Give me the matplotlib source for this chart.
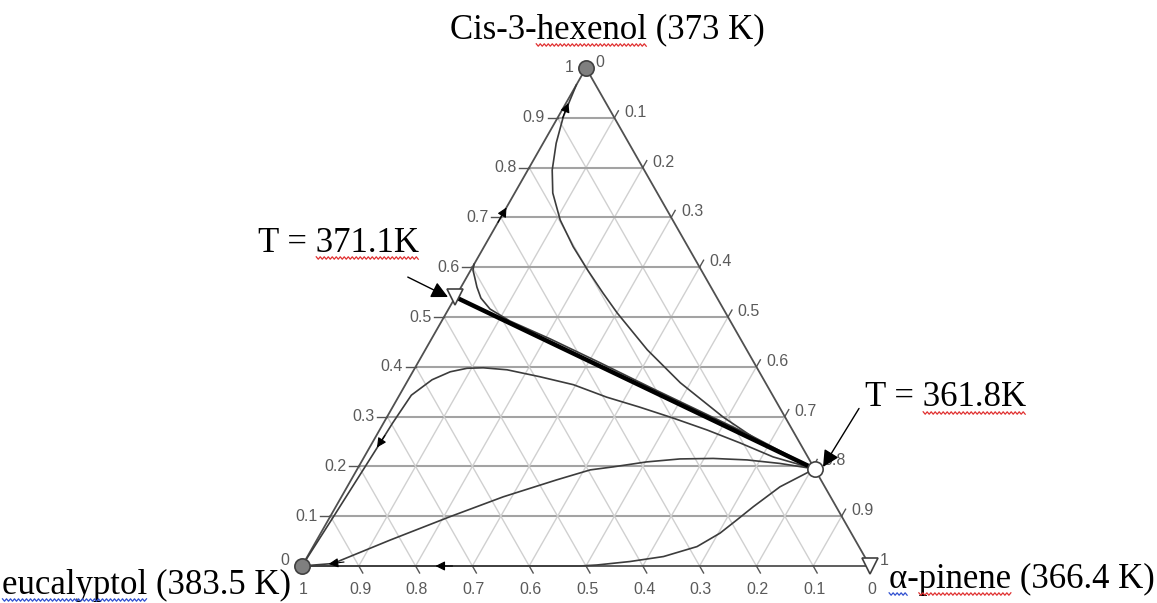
import numpy as np
import matplotlib.pyplot as plt
from matplotlib.text import Text

# compositions as (cis-3-hexenol fraction, alpha-pinene fraction)
boundary_hex = [0.54, 0.195]
boundary_pin = [0.0, 0.805]

curve_a_hex = [0.606, 0.594, 0.580, 0.560, 0.538, 0.516, 0.492, 0.456, 0.408, 0.359, 0.311, 0.263, 0.195]
curve_a_pin = [0.000, 0.004, 0.014, 0.028, 0.046, 0.073, 0.120, 0.209, 0.321, 0.433, 0.545, 0.657, 0.805]

curve_b_hex = [0.966, 0.936, 0.902, 0.849, 0.795, 0.749, 0.695, 0.641, 0.594, 0.548, 0.508, 0.434, 0.368, 0.299, 0.253, 0.217, 0.195]
curve_b_pin = [0.000, 0.004, 0.009, 0.023, 0.043, 0.067, 0.107, 0.157, 0.206, 0.256, 0.301, 0.391, 0.482, 0.592, 0.675, 0.751, 0.805]

curve_c_hex = [0.0, 0.10, 0.173, 0.246, 0.287, 0.310, 0.343, 0.374, 0.390, 0.397, 0.398, 0.394, 0.380, 0.364, 0.339, 0.319, 0.297, 0.273, 0.247, 0.219, 0.195]
curve_c_pin = [0.0, 0.006, 0.010, 0.014, 0.016, 0.018, 0.021, 0.042, 0.066, 0.092, 0.120, 0.164, 0.229, 0.296, 0.367, 0.435, 0.505, 0.577, 0.648, 0.720, 0.805]

curve_d_hex = [0.0, 0.005, 0.052, 0.099, 0.139, 0.173, 0.193, 0.199, 0.209, 0.215, 0.216, 0.213, 0.206, 0.195]
curve_d_pin = [0.0, 0.052, 0.129, 0.211, 0.285, 0.362, 0.411, 0.448, 0.502, 0.558, 0.616, 0.677, 0.738, 0.805]

curve_e_hex = [0.195, 0.159, 0.119, 0.092, 0.066, 0.039, 0.019, 0.009, 0.002, 0.0, 0.0]
curve_e_pin = [0.805, 0.762, 0.735, 0.719, 0.703, 0.676, 0.627, 0.573, 0.518, 0.489, 0.0]

# direction arrows on curves: (hex, pin) tail -> tip
arrow_tail = [(0.69, 0.0), (0.90, 0.009), (0.262, 0.015), (0.008, 0.07), (0.0, 0.265)]
arrow_tip = [(0.72, 0.0), (0.93, 0.004), (0.238, 0.013), (0.004, 0.045), (0.0, 0.235)]

ticks = np.round(np.arange(0, 1.01, 0.1), 1)


def tern(h, p):
    h = np.asarray(h, dtype=float)
    p = np.asarray(p, dtype=float)
    return p + h / 2, h


def px(x, y):
    # picture pixel -> data coords
    return (x - 302) / 568, (566 - y) / 498


fig = plt.figure(figsize=(11.57, 6.03), dpi=100)
ax = fig.add_axes([0, 0, 1, 1])
ax.set_xlim(-302 / 568, 855 / 568)
ax.set_ylim(-37 / 498, 566 / 498)
ax.axis('off')

# grid
for t in ticks[1:-1]:
    x0, y0 = tern(t, 0)
    x1, y1 = tern(t, 1 - t)
    ax.plot([x0, x1], [y0, y1], color='#a3a3a3', lw=1.5, zorder=1)
    xa, ya = tern(0, t)
    xb, yb = tern(1 - t, t)
    ax.plot([xa, xb], [ya, yb], color='#d0d0d0', lw=1.0, zorder=1)
    xa, ya = tern(1 - t, 0)
    xb, yb = tern(0, 1 - t)
    ax.plot([xa, xb], [ya, yb], color='#d0d0d0', lw=1.0, zorder=1)

# axis ticks, outside the frame
for t in ticks[1:-1]:
    xa, ya = tern(1 - t, t)
    xb, yb = tern(1 - t + 0.014, t)
    ax.plot([xa, xb], [ya, yb], color='#555555', lw=1.0, zorder=2)
    xa, ya = tern(0, 1 - t)
    xb, yb = tern(-0.014, 1 - t + 0.014)
    ax.plot([xa, xb], [ya, yb], color='#555555', lw=1.0, zorder=2)
    xa, ya = tern(t, 0)
    ax.plot([xa - 10 / 568, xa], [ya, ya], color='#555555', lw=1.0, zorder=2)

# triangle frame
fx, fy = tern([0, 1, 0, 0], [0, 0, 1, 0])
ax.plot(fx, fy, color='#505050', lw=1.3, zorder=3)

# tick labels
lab_kw = dict(fontsize=11.5, color='#5a5a5a', family='Liberation Sans',
              textcoords='offset points')
for t in ticks:
    s = '%g' % t
    ax.annotate(s, tern(t, 0), xytext=(-9, 4 if t == 0 else 0), ha='right', va='center', **lab_kw)
    ax.annotate(s, tern(1 - t, t), xytext=(7, 4), ha='left', va='center', **lab_kw)
    ax.annotate('%g' % (1 - t), tern(0, t), xytext=(1, -17), ha='center', va='center', **lab_kw)

# residue curves
curve_kw = dict(color='#3c3c3c', lw=1.2, zorder=4)
for hh, pp in [(curve_a_hex, curve_a_pin), (curve_b_hex, curve_b_pin),
               (curve_c_hex, curve_c_pin), (curve_d_hex, curve_d_pin),
               (curve_e_hex, curve_e_pin)]:
    cx, cy = tern(hh, pp)
    ax.plot(cx, cy, **curve_kw)

bx, by = tern(boundary_hex, boundary_pin)
ax.plot(bx, by, color='black', lw=3.2, zorder=5, solid_capstyle='butt')

for tail, tip in zip(arrow_tail, arrow_tip):
    ax.annotate('', xy=tern(*tip), xytext=tern(*tail),
                arrowprops=dict(arrowstyle='-|>', color='black', lw=0.8,
                                mutation_scale=14, shrinkA=0, shrinkB=0),
                zorder=6)

# singular points
ax.plot(*tern(1, 0), 'o', ms=11, mfc='#7f7f7f', mec='#404040', mew=1.2, zorder=7, clip_on=False)
ax.plot(*tern(0, 0), 'o', ms=11, mfc='#7f7f7f', mec='#404040', mew=1.2, zorder=7, clip_on=False)
ax.plot(*tern(0, 1), 'v', ms=12, mfc='white', mec='#404040', mew=1.2, zorder=7, clip_on=False)
ax.plot(*tern(boundary_hex[0], boundary_pin[0]), 'v', ms=12, mfc='white', mec='#404040', mew=1.2, zorder=7)
ax.plot(*tern(boundary_hex[1], boundary_pin[1]), 'o', ms=11, mfc='white', mec='#404040', mew=1.2, zorder=7)

# component labels and azeotrope temperatures
serif = dict(family='Liberation Serif', color='black', fontsize=25)
t_hex = ax.text(*px(607, 30), 'Cis-3-hexenol (373 K)', ha='center', va='center', **serif)
t_euc = ax.text(*px(147, 585), 'eucalyptol (383.5 K)', ha='center', va='center', **serif)
t_pin = ax.text(*px(1022, 579), 'α-pinene (366.4 K)', ha='center', va='center', **serif)

t_az1 = ax.annotate('T = 371.1K', xy=px(448, 297), xytext=px(339, 243),
                    ha='center', va='center', **serif,
                    arrowprops=dict(arrowstyle='-|>', color='black', lw=1.0,
                                    mutation_scale=25, shrinkA=24, shrinkB=0))
t_az2 = ax.annotate('T = 361.8K', xy=px(823, 467), xytext=px(946, 398),
                    ha='center', va='center', **serif,
                    arrowprops=dict(arrowstyle='-|>', color='black', lw=1.0,
                                    mutation_scale=25, shrinkA=5, shrinkB=0,
                                    relpos=(0, 0.5)))

# spell-check squiggles under some words, as in the source document
fig.canvas.draw()
renderer = fig.canvas.get_renderer()


def text_width(s, ref):
    if not s:
        return 0.0
    tmp = ax.text(0, 0, s, fontproperties=ref.get_fontproperties())
    w = tmp.get_window_extent(renderer).width
    tmp.remove()
    return w


def squiggle(txt, prefix, word, color):
    bb = Text.get_window_extent(txt, renderer)
    x0 = bb.x0 + text_width(prefix, txt)
    x1 = bb.x0 + text_width(prefix + word, txt)
    xs = np.arange(x0, x1, 2.0)
    ys = bb.y0 + 1.5 + np.where(np.arange(len(xs)) % 2 == 0, 1.2, -1.2)
    pts = ax.transData.inverted().transform(np.column_stack([xs, ys]))
    ax.plot(pts[:, 0], pts[:, 1], color=color, lw=0.9, zorder=8, clip_on=False)


squiggle(t_hex, 'Cis-3-', 'hexenol', '#e03030')
squiggle(t_euc, '', 'eucalyptol', '#3050d0')
squiggle(t_pin, '', 'α', '#3050d0')
squiggle(t_pin, 'α-', 'pinene', '#e03030')
squiggle(t_az1, 'T = ', '371.1K', '#e03030')
squiggle(t_az2, 'T = ', '361.8K', '#e03030')

fig.savefig('out.png', dpi=100)
